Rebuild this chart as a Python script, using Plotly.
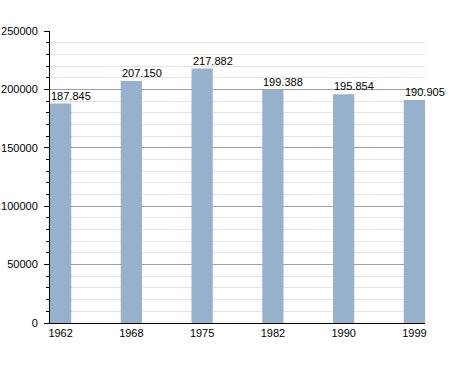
import plotly.graph_objects as go

years = ["1962", "1968", "1975", "1982", "1990", "1999"]
population = [187845, 207150, 217882, 199388, 195854, 190905]
value_labels = ["187.845", "207.150", "217.882", "199.388", "195.854", "190.905"]

bar_w = 0.3
xpos = list(range(len(years)))

fig = go.Figure()
fig.add_trace(go.Bar(
    x=xpos, y=population, width=bar_w, offset=0,
    marker=dict(color="#95b1cc", line=dict(width=0)),
    hoverinfo="skip",
))

for i, (v, t) in enumerate(zip(population, value_labels)):
    fig.add_annotation(x=i, y=v, text=t, showarrow=False, xanchor="left",
                       yanchor="bottom", xshift=-1, yshift=0,
                       font=dict(family="Liberation Sans, Arial", size=11, color="black"))

fig.update_layout(
    width=455, height=373,
    margin=dict(l=50, r=30, t=31, b=50, autoexpand=False),
    plot_bgcolor="white", paper_bgcolor="white",
    showlegend=False,
    font=dict(family="Liberation Sans, Arial", size=11, color="black"),
    xaxis=dict(
        range=[0, 5 + bar_w], tickmode="array", automargin=False,
        tickvals=[i + bar_w / 2 for i in xpos], ticktext=years,
        showgrid=False, zeroline=False, showline=True, linecolor="black",
        linewidth=1, ticks="", ticklen=0, tickfont=dict(size=11),
    ),
    yaxis=dict(
        range=[0, 250000], dtick=50000, tick0=0, automargin=False,
        showgrid=True, gridcolor="#a0a0a0", gridwidth=1,
        zeroline=False, showline=True, linecolor="black", linewidth=1,
        ticks="outside", ticklen=5, tickcolor="black", tickformat="d",
        ticklabelstandoff=4,
        tickfont=dict(size=11),
        minor=dict(dtick=10000, showgrid=True, gridcolor="#e3e3e3",
                   ticks="outside", ticklen=3, tickcolor="black"),
    ),
)

fig.write_html("out.html")
